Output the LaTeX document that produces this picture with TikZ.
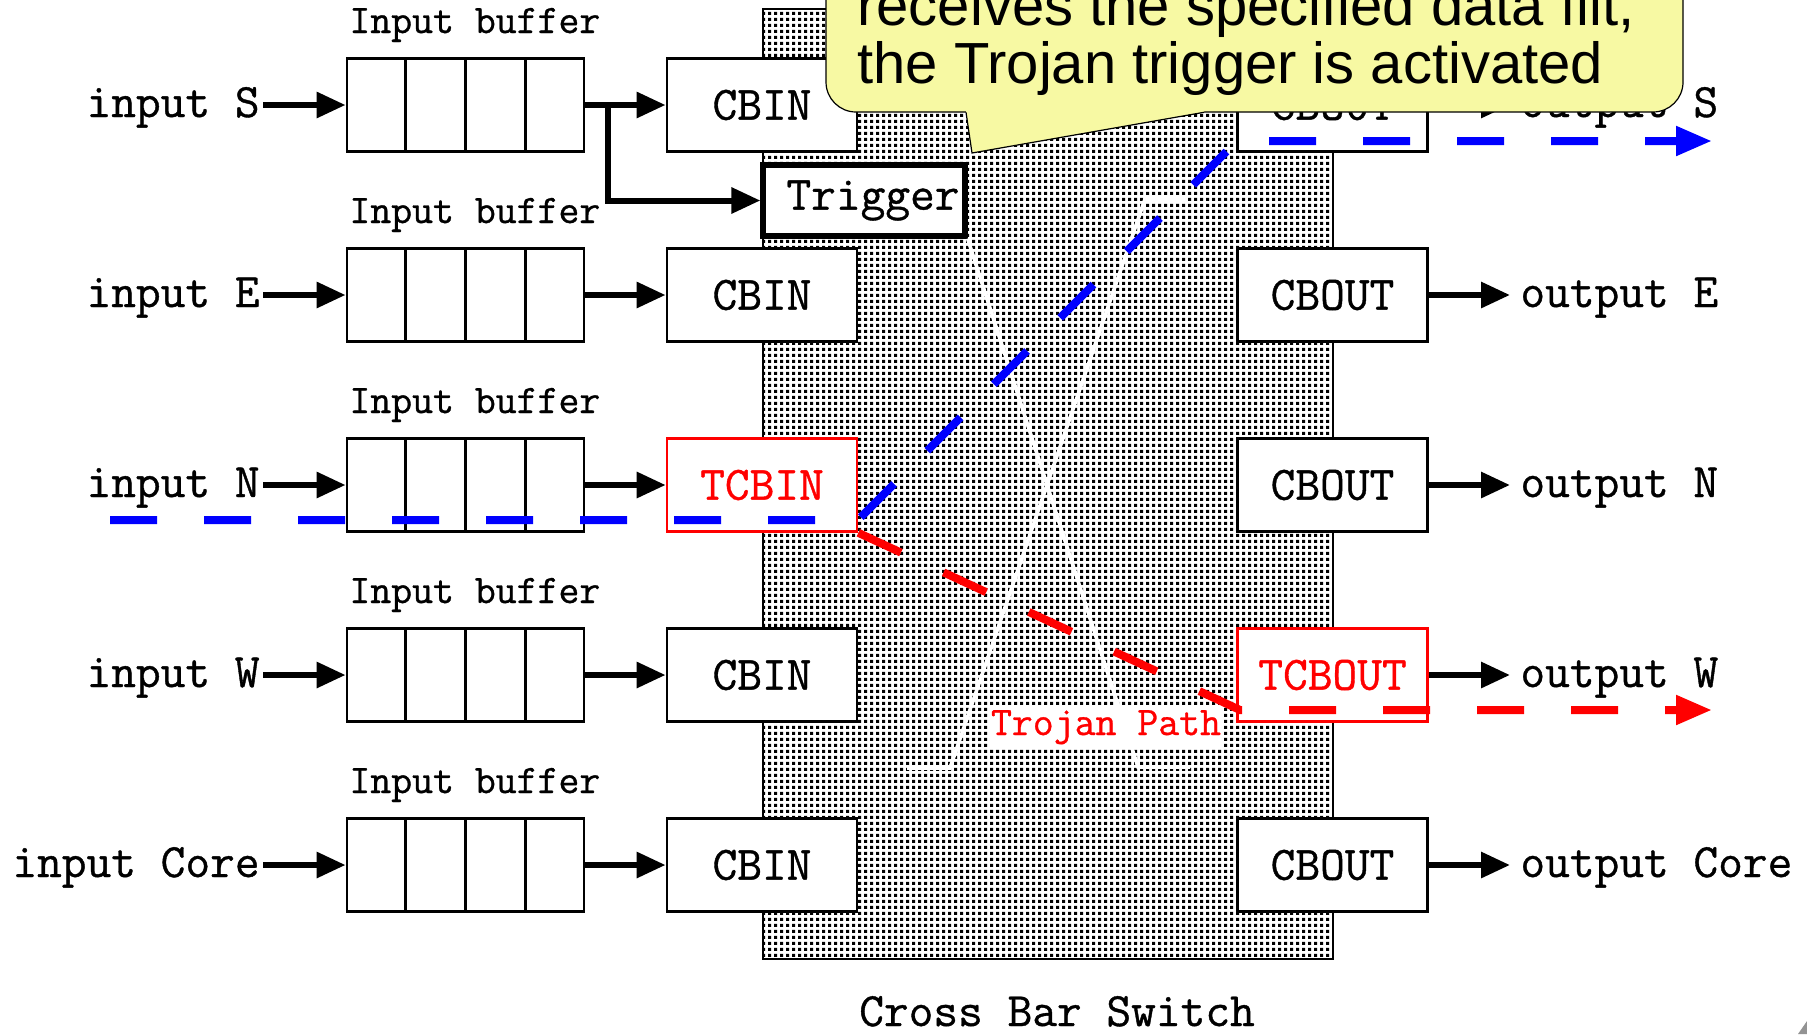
\documentclass[tikz,border=0pt]{standalone}
\usepackage{fontspec}
\setmainfont{Liberation Sans}
\setmonofont[FakeBold=0.8]{Latin Modern Mono}
\usetikzlibrary{arrows.meta,patterns,calc}

\pgfdeclarepatternformonly{xbdots}{\pgfpointorigin}{\pgfpoint{3pt}{3pt}}{\pgfpoint{3pt}{3pt}}{\pgfpathrectangle{\pgfpointorigin}{\pgfpoint{1.8pt}{1.8pt}}\pgfusepath{fill}}

\definecolor{bubblefill}{RGB}{247,249,163}
\newcommand\mylab{\fontsize{24}{27}\selectfont\ttfamily}
\newcommand\mysmall{\fontsize{20.3}{23}\selectfont\ttfamily}
\newcommand\mybub{\fontsize{29}{29}\selectfont}

\begin{document}
\begin{tikzpicture}[x=0.5pt,y=-0.5pt,
  box/.style={draw,line width=1.4pt,fill=white,minimum width=95pt,minimum height=46.5pt,inner sep=0pt,font=\mylab},
  tbox/.style={box,draw=red,text=red,line width=1.3pt},
  bufbox/.style={draw,line width=1.4pt,fill=white,minimum width=118.5pt,minimum height=46.5pt,inner sep=0pt},
  divider/.style={line width=1.1pt},
  trigbox/.style={draw,line width=2.6pt,fill=white,minimum width=101pt,minimum height=35.5pt,inner sep=0pt,font=\mylab},
  inlab/.style={font=\mylab,inner sep=0pt,anchor=base east},
  outlab/.style={font=\mylab,inner sep=0pt,anchor=base west},
  buflab/.style={font=\mysmall,inner sep=0pt,anchor=base west},
  blk/.style={line width=3pt,-{Triangle[length=14.5pt,width=12.5pt]}},
  wire/.style={white,line width=1.8pt},
  dashpath/.style={line width=4pt,dash pattern=on 23.5pt off 23.5pt,-{Triangle[length=18pt,width=14pt]}},
  bubtext/.style={font=\mybub,inner sep=0pt,anchor=base west}
]
\useasboundingbox (0,0) rectangle (1807,1034);
\clip (0,0) rectangle (1807,1034);

% cross bar switch
\draw[line width=1.2pt,pattern=xbdots] (763,9) rectangle (1333,959);
\node[font=\mylab,inner sep=0pt,anchor=base] (xblab) at (1057,1026) {Cross Bar Switch};

% trigger and internal white wiring
\node[trigbox] (trig) at (864,200.5) {\hspace*{9pt}Trigger};
\draw[wire] (trig.south east) -- (1138,767) -- (1190,767);
\draw[wire] (1187,199) -- (1145,199) -- (950,768) -- (907,768);

% input side
\foreach \d [count=\i from 0] in {S,E,N,W,Core} {
  \pgfmathsetmacro\yy{105+190*\i}
  \node[bufbox] (buf\d) at (465.5,\yy) {};
  \foreach \f in {0.25,0.5,0.75}
    \draw[divider] ($(buf\d.north west)!\f!(buf\d.north east)$) -- ($(buf\d.south west)!\f!(buf\d.south east)$);
  \node[inlab] (in\d) at (260,\yy+12) {input \d};
  \node[buflab] (bl\d) at (349,\yy-72) {Input buffer};
  \draw[blk] ([xshift=1.5pt]in\d.east |- buf\d.west) -- (buf\d.west);
}

\node[box] (cbS) at (762,105) {CBIN};
\node[box] (cbE) at (762,295) {CBIN};
\node[tbox] (cbN) at (762,485) {TCBIN};
\node[box] (cbW) at (762,675) {CBIN};
\node[box] (cbCore) at (762,865) {CBIN};
\foreach \d in {S,E,N,W,Core} \draw[blk] (buf\d.east) -- (cb\d.west);

\coordinate (br) at (608,105);
\draw[blk] (br) |- (trig.west);

% output side
\node[box] (coS) at (1332.5,105) {CBOUT};
\node[box] (coE) at (1332.5,295) {CBOUT};
\node[box] (coN) at (1332.5,485) {CBOUT};
\node[tbox] (coW) at (1332.5,675) {TCBOUT};
\node[box] (coCore) at (1332.5,865) {CBOUT};
\foreach \d [count=\i from 0] in {S,E,N,W,Core} {
  \pgfmathsetmacro\yy{105+190*\i}
  \node[outlab] (out\d) at (1520,\yy+12) {output \d};
  \draw[blk] (co\d.east) -- ([xshift=-5pt]out\d.west |- co\d.east);
}

% Trojan path label
\node[font=\mysmall,text=red,fill=white,inner sep=1.5pt,anchor=base] (tp) at (1106,735) {Trojan Path};

% dashed paths
\coordinate (b0) at (110,520);
\coordinate (b1) at (858,520);
\coordinate (b2) at (1237,141);
\coordinate (b3) at (1712,141);
\draw[dashpath,blue] (b0) -- (b1) -- (b2) -- (b3);
\coordinate (r1) at (1240,710);
\coordinate (r2) at (1712,710);
\draw[dashpath,red] (cbN.south east) -- (r1) -- (r2);

% callout
\draw[line width=0.6pt,fill=bubblefill,rounded corners=15pt] (826,-100) rectangle (1683,112);
\fill[bubblefill] (966,104) -- (966,112) -- (972,153) -- (1204,112) -- (1204,104) -- cycle;
\draw[line width=0.6pt] (966,112.3) -- (972,153) -- (1204,112.3);
\node[bubtext] (bt1) at (857,25) {receives the specified data flit,};
\node[bubtext] (bt2) at (857,83) {the Trojan trigger is activated};

% corner mark
\fill[gray!85] (1798,1034) -- (1807,1021) -- (1807,1034) -- cycle;
\end{tikzpicture}
\end{document}
